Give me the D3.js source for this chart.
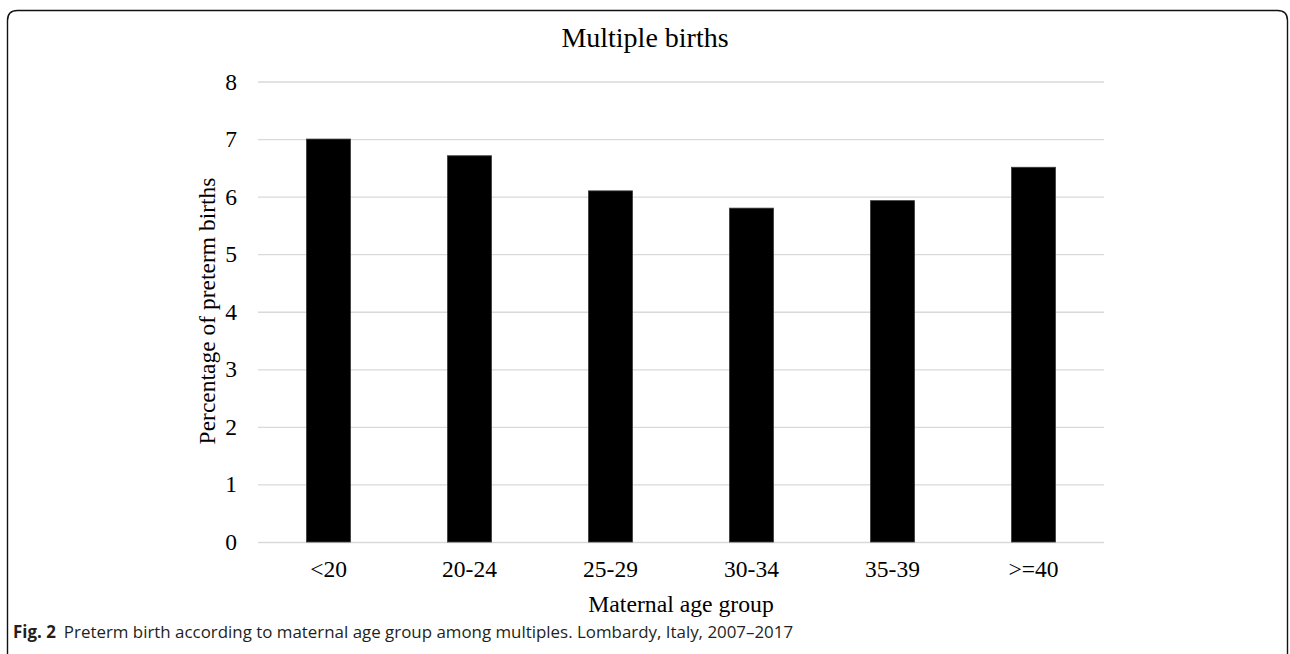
<!DOCTYPE html>
<html>
<head>
<meta charset="utf-8">
<script src="https://cdn.jsdelivr.net/npm/d3@7"></script>
<style>
  body { margin: 0; background: #fff; }
  svg { display: block; }
  .tick text { font-family: "Liberation Serif", "Times New Roman", serif; }
</style>
</head>
<body>
<div id="container"></div>
<script>
(function(){

  // data
  var ageGroups = ["<20", "20-24", "25-29", "30-34", "35-39", ">=40"]
  var pctPreterm = [7.0, 6.71, 6.1, 5.8, 5.93, 6.51]
  var yTicks = [0, 1, 2, 3, 4, 5, 6, 7, 8]

  var width = 1290, height = 654
  var margin = { top: 81.5, right: 186, bottom: 112, left: 258 }
  var plotW = width - margin.left - margin.right,
      plotH = height - margin.top - margin.bottom

  var svg = d3.select("#container")
    .append("svg")
      .attr("width", width)
      .attr("height", height)

  // frame with rounded top corners, open at the bottom
  var r = 10, fx0 = 7.5, fx1 = 1287.5, fy = 10.5
  svg.append("path")
    .attr("d", "M" + fx0 + "," + (height + 2) + " L" + fx0 + "," + (fy + r) +
               " Q" + fx0 + "," + fy + " " + (fx0 + r) + "," + fy +
               " L" + (fx1 - r) + "," + fy +
               " Q" + fx1 + "," + fy + " " + fx1 + "," + (fy + r) +
               " L" + fx1 + "," + (height + 2))
    .attr("fill", "none")
    .attr("stroke", "#111")
    .attr("stroke-width", 1.4)

  var g = svg.append("g")
    .attr("transform", "translate(" + margin.left + "," + margin.top + ")")

  var x = d3.scaleBand()
    .domain(ageGroups)
    .range([0, plotW])
    .paddingInner(0.688)
    .paddingOuter(0.344)

  var y = d3.scaleLinear()
    .domain([0, 8])
    .range([plotH, 0])

  // gridlines
  g.append("g")
    .attr("class", "grid")
    .call(d3.axisLeft(y).tickValues(yTicks).tickSize(-plotW).tickFormat(""))
    .call(function(s){ s.select(".domain").remove() })
    .selectAll("line")
      .attr("stroke", "#d9d9d9")
      .attr("stroke-width", 1.3)

  // y tick labels
  var yAxis = g.append("g")
    .call(d3.axisLeft(y).tickValues(yTicks).tickSize(0).tickPadding(21).tickFormat(d3.format("d")))
  yAxis.select(".domain").remove()
  yAxis.selectAll("text")
    .attr("font-size", 23.5)
    .attr("fill", "#000")

  // bars
  g.selectAll(".bar")
    .data(ageGroups)
    .enter().append("rect")
      .attr("class", "bar")
      .attr("x", function(d){ return x(d) })
      .attr("width", x.bandwidth())
      .attr("y", function(d, i){ return y(pctPreterm[i]) })
      .attr("height", function(d, i){ return plotH - y(pctPreterm[i]) })
      .attr("fill", "#000")
      .attr("stroke", "#3a3a3a")
      .attr("stroke-width", 0.8)

  // x tick labels
  var xAxis = g.append("g")
    .attr("transform", "translate(0," + plotH + ")")
    .call(d3.axisBottom(x).tickSize(0).tickPadding(18))
  xAxis.select(".domain").remove()
  xAxis.selectAll("text")
    .attr("font-size", 23.5)
    .attr("fill", "#000")

  var serif = "'Liberation Serif', 'Times New Roman', serif"

  svg.append("text")
    .attr("x", 645)
    .attr("y", 47)
    .attr("text-anchor", "middle")
    .style("font-family", serif)
    .style("font-size", "28px")
    .text("Multiple births")

  svg.append("text")
    .attr("x", margin.left + plotW / 2)
    .attr("y", 612)
    .attr("text-anchor", "middle")
    .style("font-family", serif)
    .style("font-size", "23.7px")
    .text("Maternal age group")

  svg.append("text")
    .attr("transform", "translate(215,311) rotate(-90)")
    .attr("text-anchor", "middle")
    .style("font-family", serif)
    .style("font-size", "23.5px")
    .text("Percentage of preterm births")

  // caption
  var cap = svg.append("text")
    .attr("x", 13)
    .attr("y", 638)
    .style("font-family", "'Open Sans', 'Noto Sans', sans-serif")
    .style("font-size", "16.9px")
    .attr("fill", "#231f20")
  cap.append("tspan").attr("font-weight", "bold").text("Fig. 2")
  cap.append("tspan").attr("dx", 8).text("Preterm birth according to maternal age group among multiples. Lombardy, Italy, 2007\u20132017")

})()
</script>
</body>
</html>
